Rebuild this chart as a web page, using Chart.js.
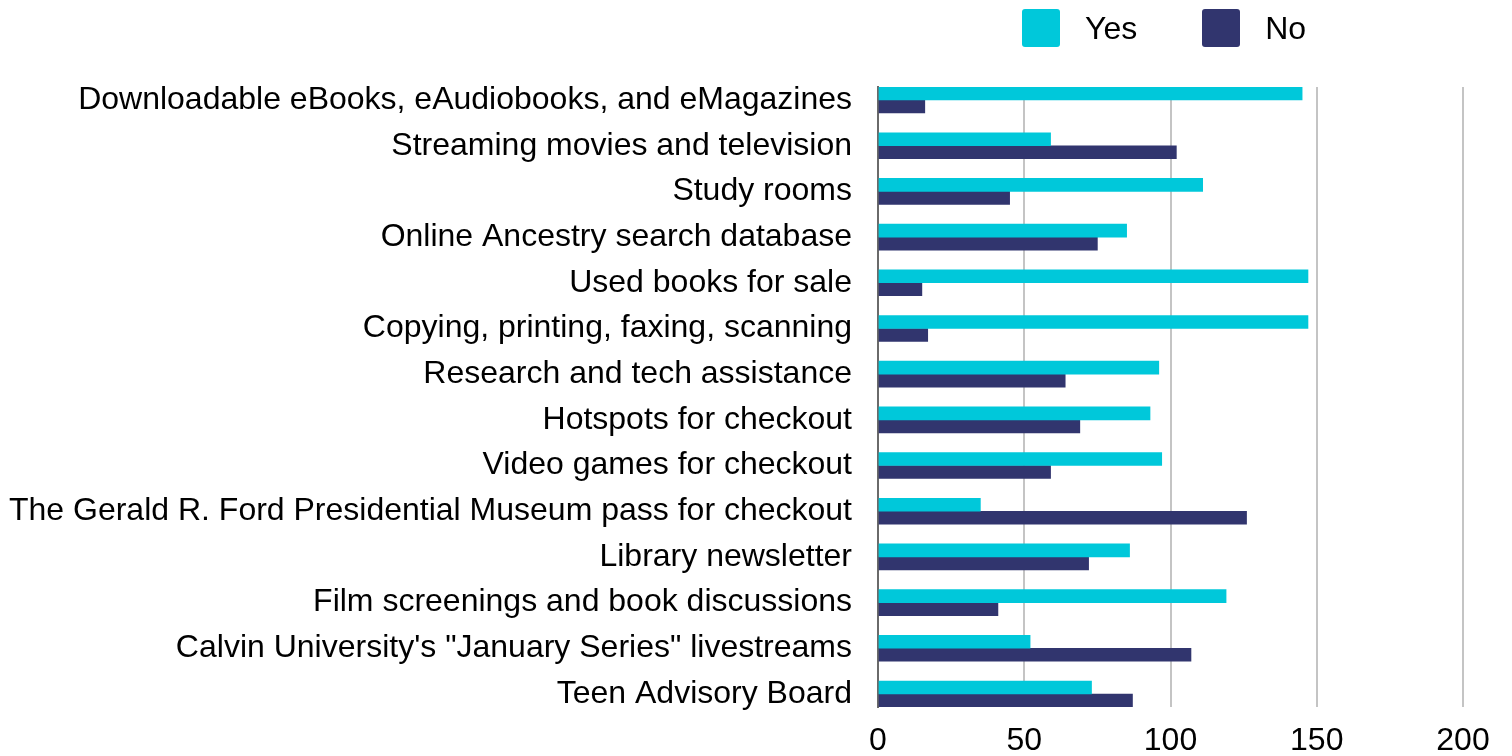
<!doctype html>
<html lang="en">

<head>
    <meta charset="UTF-8" />
    <title>Library services - Yes / No</title>
    <script src="https://cdn.jsdelivr.net/npm/chart.js"></script>
    <style>
        html, body { margin: 0; padding: 0; background: #fff; }
        .wrap { position: relative; width: 1512px; height: 756px; }
        .legend {
            position: absolute; left: 1022px; top: 9px;
            display: flex; align-items: center;
            font-family: "Liberation Sans", Arial, sans-serif; font-size: 32px; color: #000;
        }
        .legend-item { display: flex; align-items: center; margin-right: 65px; }
        .legend-box { width: 38px; height: 38px; border-radius: 3px; margin-right: 25px; }
    </style>
</head>

<body>
    <div class="wrap">
        <canvas id="chart" width="1512" height="756"></canvas>
        <div class="legend" id="legend"></div>
    </div>

    <script>
        // categories, top to bottom
        const categories = [
            "Downloadable eBooks, eAudiobooks, and eMagazines",
            "Streaming movies and television",
            "Study rooms",
            "Online Ancestry search database",
            "Used books for sale",
            "Copying, printing, faxing, scanning",
            "Research and tech assistance",
            "Hotspots for checkout",
            "Video games for checkout",
            "The Gerald R. Ford Presidential Museum pass for checkout",
            "Library newsletter",
            "Film screenings and book discussions",
            "Calvin University's \"January Series\" livestreams",
            "Teen Advisory Board"
        ];
        const yesValues = [145, 59, 111, 85, 147, 147, 96, 93, 97, 35, 86, 119, 52, 73];
        const noValues = [16, 102, 45, 75, 15, 17, 64, 69, 59, 126, 72, 41, 107, 87];
        const seriesNames = ["Yes", "No"];
        const seriesColors = ["#00c8da", "#31356e"];
        const xTicks = [0, 50, 100, 150, 200];

        const FONT = "'Liberation Sans', Arial, sans-serif";

        // legend
        document.getElementById("legend").innerHTML = seriesNames.map((name, i) => `
            <div class="legend-item">
              <div class="legend-box" style="background:${seriesColors[i]}"></div>
              <span>${name}</span>
            </div>`).join("");

        const toPoints = vals => vals.map((v, i) => ({ x: v, y: i }));

        new Chart(document.getElementById("chart"), {
            type: "bar",
            data: {
                datasets: [
                    { label: seriesNames[0], data: toPoints(yesValues), backgroundColor: seriesColors[0] },
                    { label: seriesNames[1], data: toPoints(noValues), backgroundColor: seriesColors[1] }
                ]
            },
            options: {
                indexAxis: "y",
                responsive: false,
                animation: false,
                barThickness: 13,
                layout: { padding: { left: 6, right: 49, top: 87, bottom: 0 } },
                plugins: { legend: { display: false }, tooltip: { enabled: false } },
                scales: {
                    x: {
                        type: "linear",
                        min: xTicks[0],
                        max: xTicks[xTicks.length - 1],
                        afterBuildTicks: s => { s.ticks = xTicks.map(v => ({ value: v })); },
                        afterFit: s => { s.height = 49; },
                        grid: { color: "#c4c4c4", lineWidth: 2, drawTicks: false },
                        border: { display: false },
                        ticks: { padding: 15, color: "#000", font: { family: FONT, size: 32 } }
                    },
                    y: {
                        type: "linear",
                        reverse: true,
                        offset: false,
                        min: -0.285,
                        max: categories.length - 1 + 0.285,
                        afterBuildTicks: s => { s.ticks = categories.map((c, i) => ({ value: i })); },
                        // the labels are wider than half the canvas, so fix the axis width
                        afterFit: s => { s.width = 872; },
                        grid: { display: false, drawTicks: false, offset: false },
                        border: { display: true, color: "#6a6a6a", width: 2 },
                        ticks: {
                            padding: 26,
                            autoSkip: false,
                            color: "#000",
                            font: { family: FONT, size: 32 },
                            callback: v => categories[v]
                        }
                    }
                }
            }
        });
    </script>
</body>

</html>
